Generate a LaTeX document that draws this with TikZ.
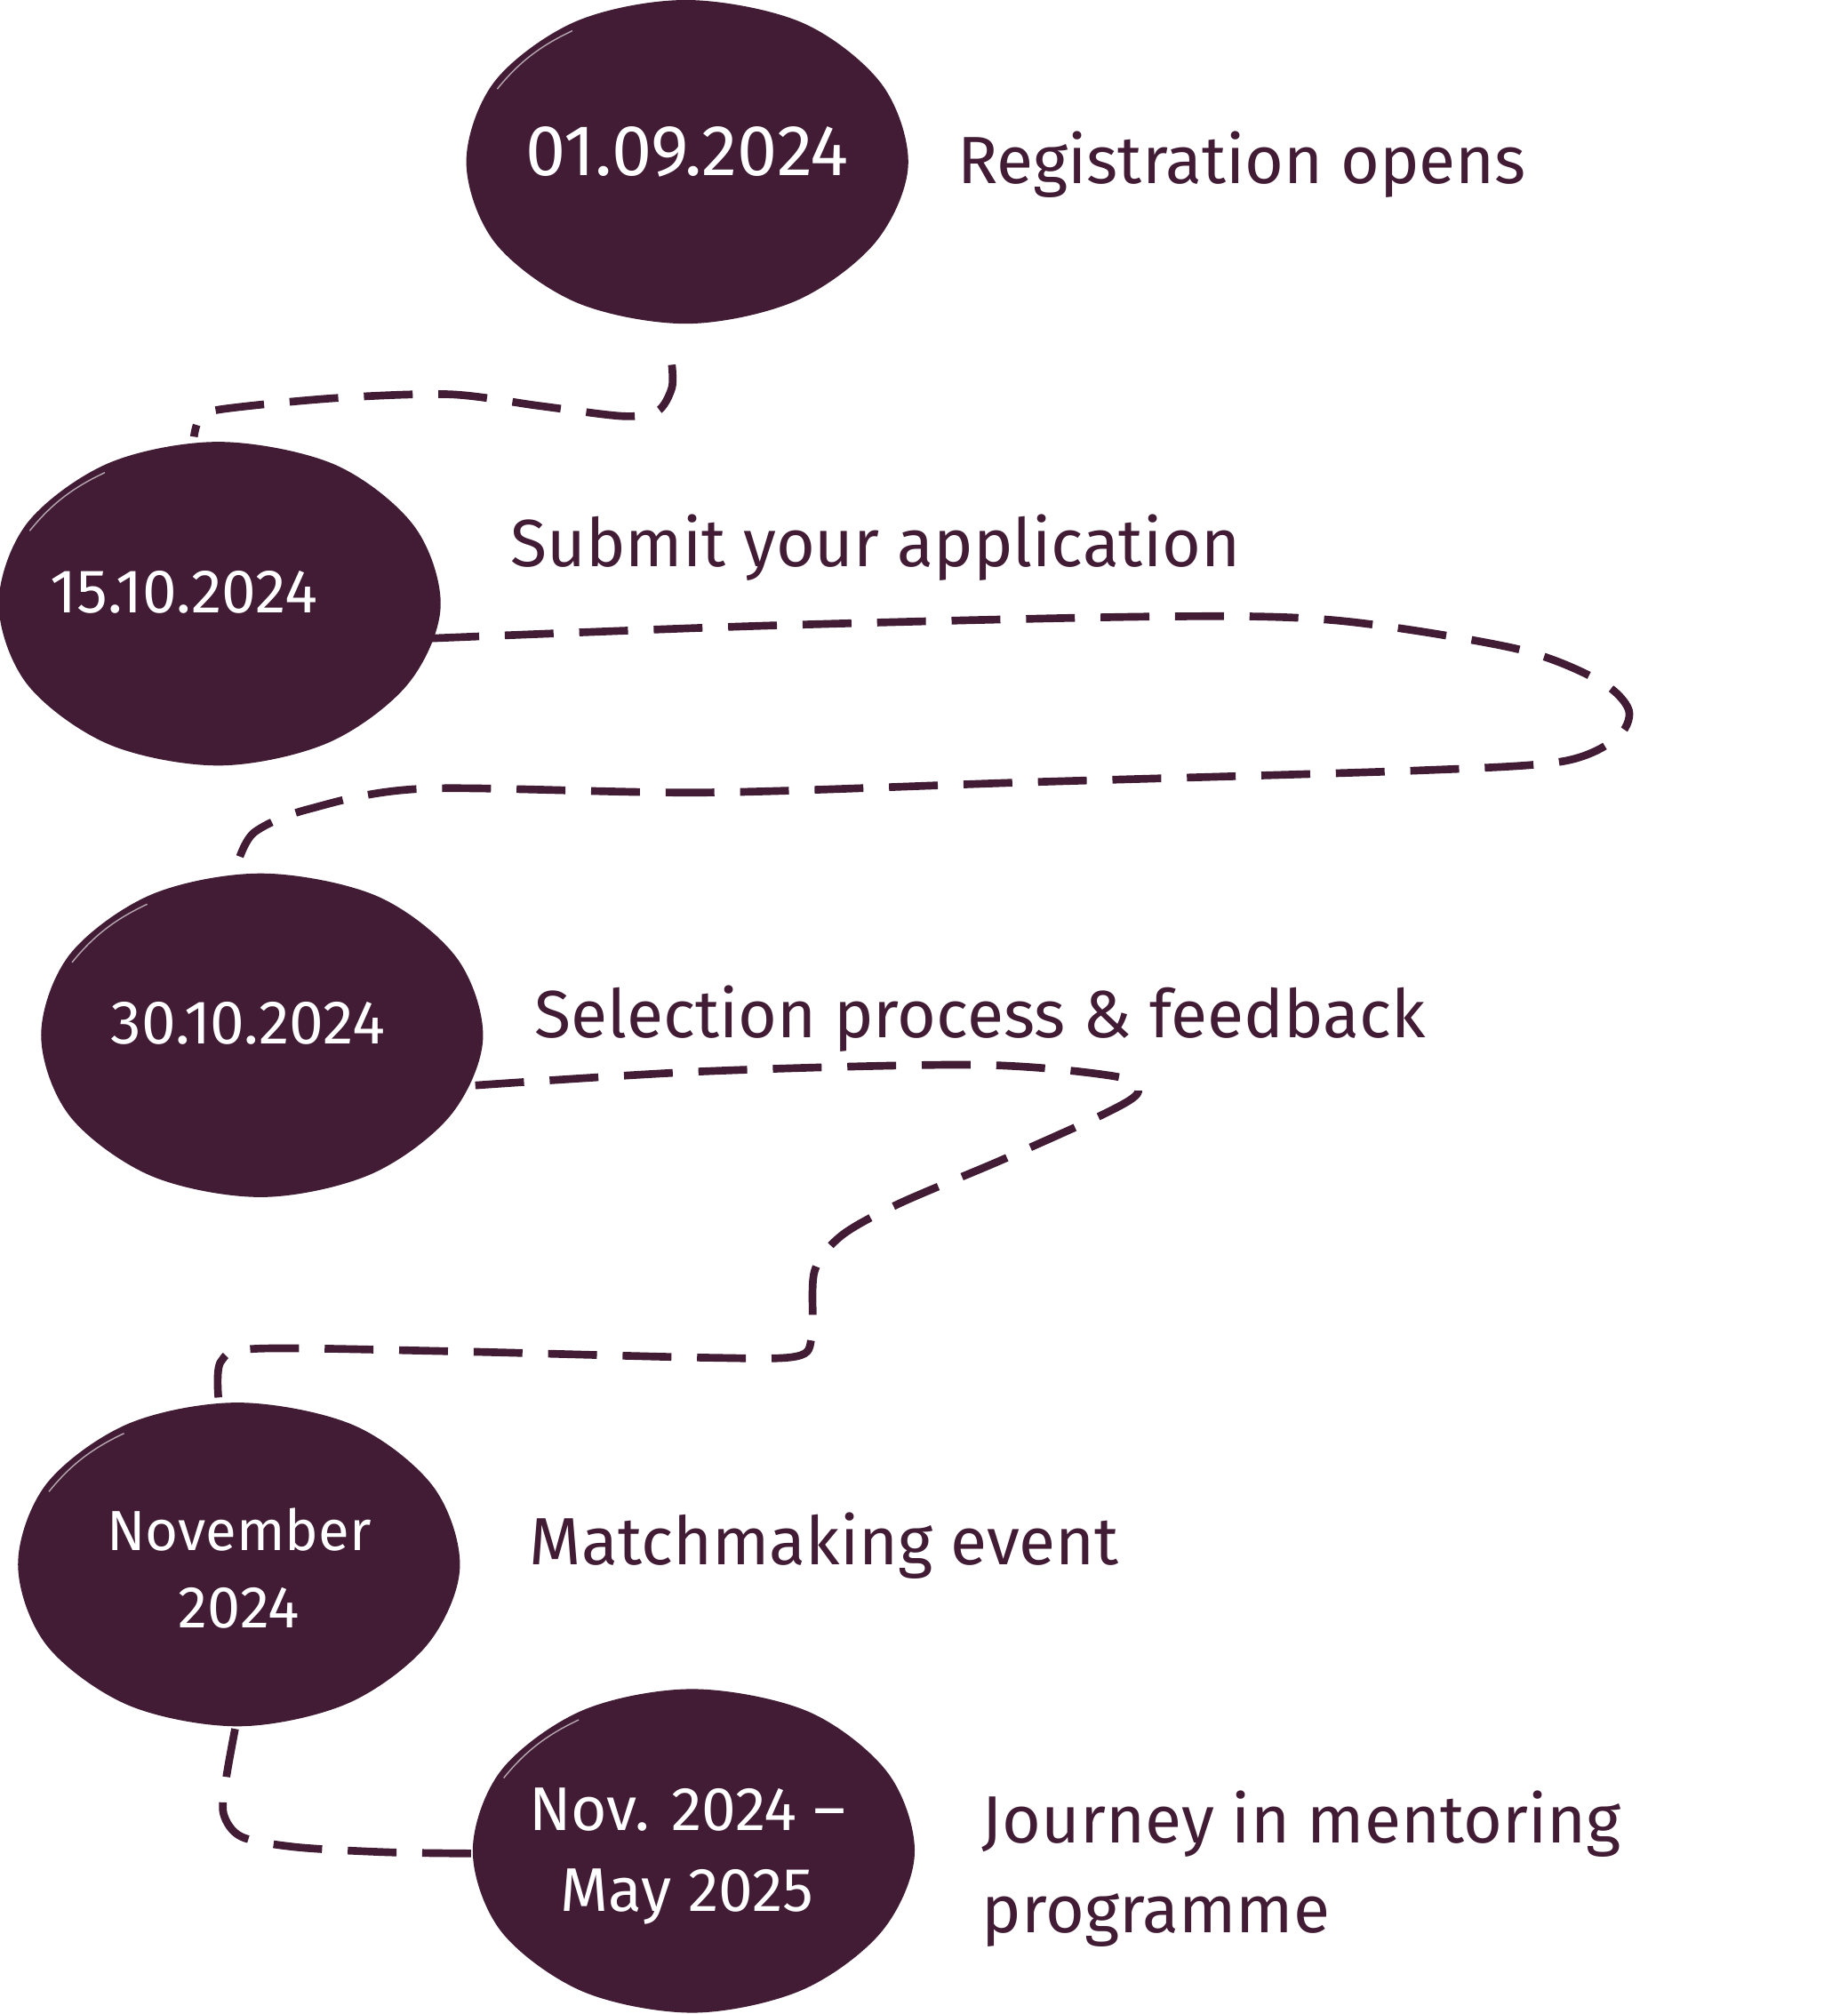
\documentclass[tikz,border=0pt]{standalone}
\usepackage{fontspec}
\setmainfont{Fira Sans}
\definecolor{plum}{HTML}{421C35}
\tikzset{
  blobfill/.style={fill=plum},
  gleam/.style={draw=white, line width=0.5pt, opacity=0.6},
  conn/.style={draw=plum, line width=3pt, dash pattern=on 19pt off 10pt},
  datetxt/.style={text=white, font=\fontsize{24}{28}\selectfont, inner sep=0pt, anchor=base},
  labeltxt/.style={text=plum, font=\fontsize{26}{30}\selectfont, inner sep=0pt, anchor=base west},
}
\newcommand\drawblob[2]{%
  \begin{scope}[shift={(#1,#2)}, xscale=172, yscale=126]
    \path[blobfill] plot[smooth cycle, tension=0.55] coordinates {
      (1.0,0.02) (0.85,0.50) (0.49,0.86) (0.0,1.0) (-0.50,0.87) (-0.87,0.50)
      (-1.0,0.0) (-0.87,-0.50) (-0.50,-0.87) (0.0,-1.0) (0.52,-0.86) (0.88,-0.48)};
    \draw[gleam] (-0.86,-0.45) .. controls (-0.76,-0.62) and (-0.66,-0.72) .. (-0.52,-0.81);
  \end{scope}}
\begin{document}
\begin{tikzpicture}[x=0.5pt, y=-0.5pt]
\useasboundingbox[fill=white] (0,0) rectangle (1438,1568);

% blobs
\drawblob{535}{126}
\drawblob{171}{470}
\drawblob{204}{806}
\drawblob{186}{1218}
\drawblob{540}{1441}

% connector end points
\coordinate (c1s) at (523,284);
\coordinate (c2n) at (151,340);
\coordinate (c2e) at (335,497);
\coordinate (c3n) at (185,672);
\coordinate (c3e) at (370,845);
\coordinate (c4n) at (170,1088);
\coordinate (c4s) at (183,1346);
\coordinate (c5w) at (368,1443);

% connectors
\draw[conn] plot[smooth, tension=0.5] coordinates {(c1s) (523,302) (512,320) (485,324) (420,316) (350,307) (260,310) (170,319) (155,327) (c2n)};
\draw[conn] plot[smooth, tension=0.5] coordinates {(c2e) (600,487) (900,480) (1040,483) (1180,505) (1245,530) (1268,553) (1258,575) (1215,593) (1100,600) (800,609) (550,617) (330,614) (240,630) (198,648) (c3n)};
\draw[conn] plot[smooth, tension=0.5] coordinates {(c3e) (550,834) (760,829) (868,838) (886,850) (862,866) (780,903) (700,937) (655,962) (634,990) (632,1040) (620,1056) (550,1057) (350,1052) (200,1050) (172,1060) (c4n)};
\draw[conn] plot[smooth, tension=0.5] coordinates {(c4s) (176,1385) (174,1412) (188,1430) (230,1438) (300,1442) (c5w)};

% dates
\node[datetxt, font=\fontsize{28}{32}\selectfont] (d1) at (535,137) {01.09.2024};
\node[datetxt] (d2) at (143,477) {15.10.2024};
\node[datetxt] (d3) at (193,813) {30.10.2024};
\node[datetxt, font=\fontsize{22}{26}\selectfont] (d4a) at (186,1207) {November};
\node[datetxt, font=\fontsize{23}{26}\selectfont] (d4b) at (186,1267) {2024};
\node[datetxt] (d5a) at (535,1425) {Nov. 2024 –};
\node[datetxt] (d5b) at (535,1488) {May 2025};

% labels
\node[labeltxt] (l1) at (745,143) {Registration opens};
\node[labeltxt] (l2) at (397,441) {Submit your application};
\node[labeltxt] (l3) at (416,808) {Selection process \& feedback};
\node[labeltxt] (l4) at (412,1218) {Matchmaking event};
\node[labeltxt] (l5a) at (764,1435) {Journey in mentoring};
\node[labeltxt] (l5b) at (764,1505) {programme};
\end{tikzpicture}
\end{document}
